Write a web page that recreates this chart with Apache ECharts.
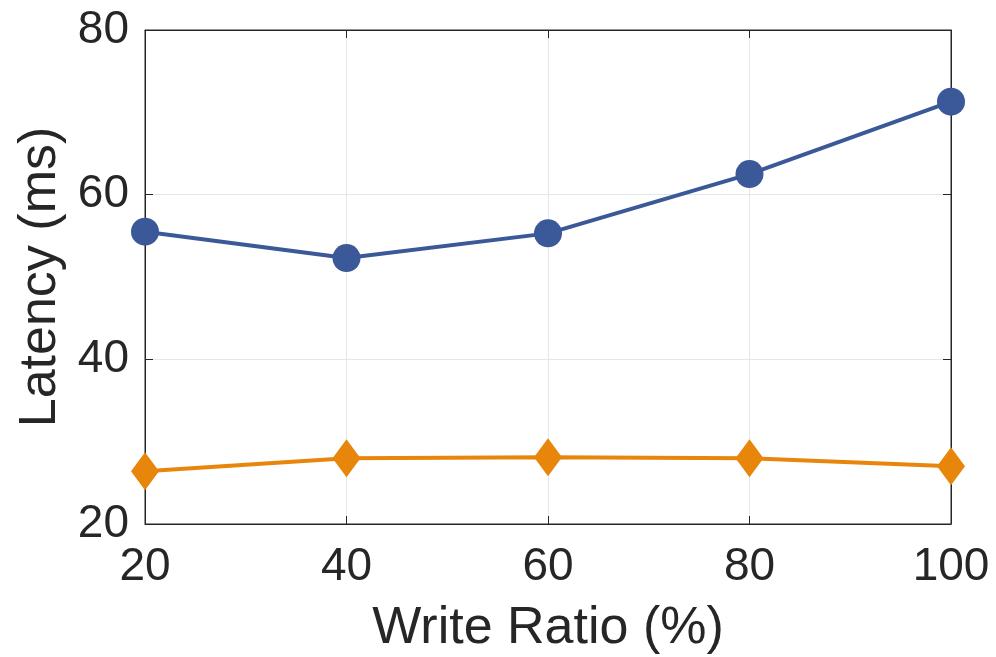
<!DOCTYPE html>
<html>
<head>
<meta charset="utf-8">
<script src="https://cdn.jsdelivr.net/npm/echarts@6/dist/echarts.min.js"></script>
<style>
  html, body { margin: 0; padding: 0; background: #fff; }
  #container { width: 996px; height: 657px; }
</style>
</head>
<body>
<div id="container"></div>
<script>
    // 数据
    var writeRatio = [20, 40, 60, 80, 100];
    var blueLatency = [55.5, 52.3, 55.3, 62.5, 71.3];
    var orangeLatency = [26.4, 28.0, 28.1, 28.0, 27.0];
    var xTicks = [20, 40, 60, 80, 100];
    var yTicks = [20, 40, 60, 80];

    function pairs(xs, ys) {
        return xs.map(function (x, i) { return [x, ys[i]]; });
    }

    var axisColor = '#262626';
    var font = 'Liberation Sans, Arial, Helvetica, sans-serif';

    var option = {
        animation: false,
        grid: {
            left: 145, right: 45, top: 30, bottom: 133,
            outerBoundsMode: 'none',
            show: true, borderColor: axisColor, borderWidth: 1
        },
        xAxis: [{
            type: 'value',
            min: 20, max: 100, interval: 20,
            name: 'Write Ratio (%)',
            nameLocation: 'middle',
            nameGap: 79,
            nameTextStyle: { fontSize: 52, color: axisColor, fontFamily: font },
            axisLine: { lineStyle: { color: axisColor } },
            axisTick: { inside: true, length: 8, lineStyle: { color: axisColor } },
            axisLabel: { fontSize: 46, color: axisColor, fontFamily: font, margin: 20 },
            splitLine: { show: true, lineStyle: { color: '#e6e6e6' } }
        }, {
            type: 'value', position: 'top',
            min: 20, max: 100, interval: 20,
            axisLine: { show: true, lineStyle: { color: axisColor } },
            axisTick: { show: true, inside: true, length: 8, lineStyle: { color: axisColor } },
            axisLabel: { show: false },
            splitLine: { show: false }
        }],
        yAxis: [{
            type: 'value',
            min: 20, max: 80, interval: 20,
            name: 'Latency (ms)',
            nameLocation: 'middle',
            nameGap: 74,
            nameTextStyle: { fontSize: 52, color: axisColor, fontFamily: font },
            axisLine: { show: true, lineStyle: { color: axisColor } },
            axisTick: { show: true, inside: true, length: 8, lineStyle: { color: axisColor } },
            axisLabel: { fontSize: 46, color: axisColor, fontFamily: font, margin: 16 },
            splitLine: { show: true, lineStyle: { color: '#e6e6e6' } }
        }, {
            type: 'value', position: 'right',
            min: 20, max: 80, interval: 20,
            axisLine: { show: true, lineStyle: { color: axisColor } },
            axisTick: { show: true, inside: true, length: 8, lineStyle: { color: axisColor } },
            axisLabel: { show: false },
            splitLine: { show: false }
        }],
        series: [
            {
                name: 'blue',
                type: 'line',
                data: pairs(writeRatio, blueLatency),
                symbol: 'circle',
                symbolSize: 28,
                lineStyle: { color: '#3b5998', width: 4 },
                itemStyle: { color: '#3b5998' },
                z: 3
            },
            {
                name: 'orange',
                type: 'line',
                data: pairs(writeRatio, orangeLatency),
                symbol: 'diamond',
                symbolSize: [28, 38],
                lineStyle: { color: '#e8860b', width: 4 },
                itemStyle: { color: '#e8860b' },
                z: 3
            }
        ]
    };

    var myChart = echarts.init(document.getElementById('container'));
    myChart.setOption(option);
</script>
</body>
</html>
